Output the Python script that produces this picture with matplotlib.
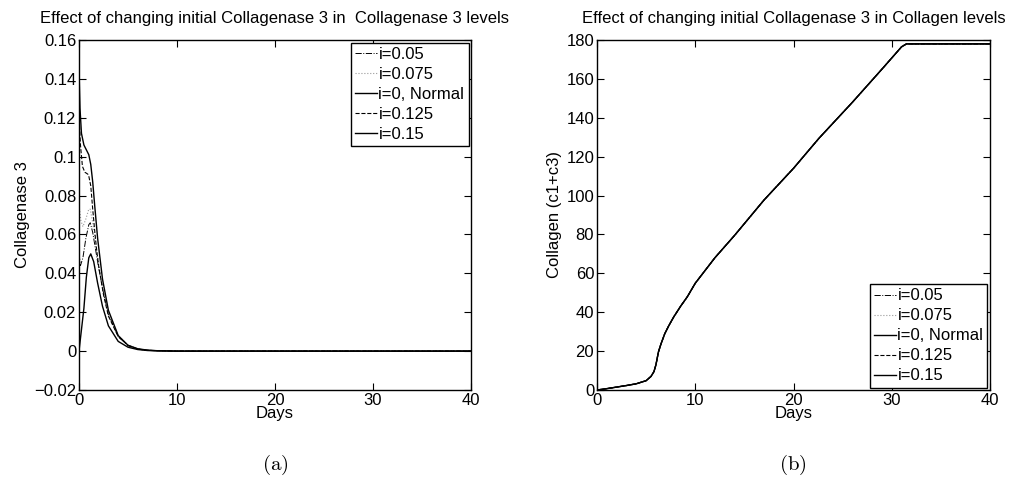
import numpy as np
import matplotlib.pyplot as plt

plt.rcParams['font.family'] = ['Liberation Sans', 'DejaVu Sans']
plt.rcParams['mathtext.fontset'] = 'cm'

# ---- panel (a): Collagenase 3 levels ----
t_015 = [0, 0.1, 0.25, 0.5, 0.8, 1.0, 1.2, 1.4, 1.6, 1.9, 2.4, 3.0, 4.0, 5.0, 6.0, 7.0, 8.0, 10, 40]
c_015 = [0.145, 0.125, 0.112, 0.106, 0.103, 0.101, 0.096, 0.087, 0.075, 0.058, 0.037, 0.021,
         0.008, 0.003, 0.0012, 0.0005, 0.0002, 0.0, 0.0]

t_0125 = [0, 0.15, 0.35, 0.6, 0.9, 1.0, 1.2, 1.4, 1.6, 1.8, 2.0, 2.5, 3.0, 4.0, 5.0, 6.0, 7.0, 10, 40]
c_0125 = [0.122, 0.106, 0.095, 0.092, 0.091, 0.09, 0.085, 0.073, 0.062, 0.052, 0.044, 0.029,
          0.018, 0.0075, 0.003, 0.0011, 0.0004, 0.0, 0.0]

t_0 = [0, 0.25, 0.5, 0.75, 1.0, 1.2, 1.5, 1.9, 2.4, 3.0, 4.0, 5.0, 6.0, 7.0, 8.0, 10, 40]
c_0 = [0.0, 0.011, 0.022, 0.038, 0.048, 0.050, 0.046, 0.035, 0.023, 0.013, 0.005, 0.002,
       0.0008, 0.0003, 0.0001, 0.0, 0.0]

t_0075 = [0, 0.2, 0.4, 0.7, 1.0, 1.15, 1.4, 1.7, 2.0, 2.5, 3.0, 4.0, 5.0, 6.0, 7.0, 10, 40]
c_0075 = [0.075, 0.067, 0.064, 0.068, 0.073, 0.073, 0.066, 0.055, 0.045, 0.031, 0.020, 0.008,
          0.003, 0.0011, 0.0004, 0.0, 0.0]

t_005 = [0, 0.15, 0.4, 0.7, 1.0, 1.15, 1.4, 1.7, 2.0, 2.5, 3.0, 4.0, 5.0, 6.0, 7.0, 10, 40]
c_005 = [0.05, 0.044, 0.048, 0.058, 0.065, 0.066, 0.061, 0.052, 0.043, 0.030, 0.019, 0.0075,
         0.0028, 0.001, 0.0004, 0.0, 0.0]

left_yticks = [-0.02, 0, 0.02, 0.04, 0.06, 0.08, 0.1, 0.12, 0.14, 0.16]
left_ylabels = ['\u22120.02', '0', '0.02', '0.04', '0.06', '0.08', '0.1', '0.12', '0.14', '0.16']

# ---- panel (b): Collagen levels (all five runs overlap) ----
t_col = [0, 1, 2, 3, 4, 5, 5.5, 5.8, 6.0, 6.25, 6.5, 6.9, 7.3, 7.8, 8.5, 9.2, 10, 12, 14, 17,
         20, 22.6, 26, 29, 31, 31.5, 32, 35, 40]
col = [0, 0.7, 1.5, 2.3, 3.2, 4.8, 7.0, 9.5, 13, 19.5, 23.5, 29, 33, 37.5, 43, 48, 54.9, 68,
       79.5, 97.7, 114, 129.5, 148, 165, 176.5, 178, 178, 178, 178]

labels = ['i=0.05', 'i=0.075', 'i=0, Normal', 'i=0.125', 'i=0.15']
styles = [dict(ls='-.', color='black', lw=0.7),
          dict(ls=':', color='#999999', lw=0.8),
          dict(ls='-', color='black', lw=1.0),
          dict(ls='--', color='black', lw=0.8),
          dict(ls='-', color='black', lw=1.0)]

fig = plt.figure(figsize=(10.2, 4.78), dpi=100)
ax1 = fig.add_axes([79 / 1020, 88 / 478, 392 / 1020, 350 / 478])
ax2 = fig.add_axes([597 / 1020, 88 / 478, 393 / 1020, 350 / 478])

left_series = [(t_005, c_005), (t_0075, c_0075), (t_0, c_0), (t_0125, c_0125), (t_015, c_015)]
for (t, c), lab, st in zip(left_series, labels, styles):
    ax1.plot(t, c, label=lab, **st)

for lab, st in zip(labels, styles):
    ax2.plot(t_col, col, label=lab, **st)

for ax in (ax1, ax2):
    ax.set_xlim(0, 40)
    ax.set_xticks([0, 10, 20, 30, 40])
    ax.tick_params(direction='in', top=True, right=True, length=5, width=0.8,
                   labelsize=12, pad=2)
    ax.set_xlabel('Days', fontsize=12, labelpad=-1)
    for sp in ax.spines.values():
        sp.set_linewidth(1.0)

ax1.set_ylim(-0.02, 0.16)
ax1.set_yticks(left_yticks)
ax1.set_yticklabels(left_ylabels)
ax1.set_ylabel('Collagenase 3', fontsize=12, labelpad=3)
ax1.set_title('Effect of changing initial Collagenase 3 in  Collagenase 3 levels', fontsize=12, pad=12)

ax2.set_ylim(0, 180)
ax2.set_yticks(np.arange(0, 181, 20))
ax2.set_ylabel('Collagen (c1+c3)', fontsize=12, labelpad=3)
ax2.set_title('Effect of changing initial Collagenase 3 in Collagen levels', fontsize=12, pad=12)

leg_kw = dict(fontsize=12, fancybox=False, framealpha=1, edgecolor='black',
              handlelength=1.3, handletextpad=0.1, borderpad=0.25, labelspacing=0.3,
              borderaxespad=0.15)
l1 = ax1.legend(loc='upper right', **leg_kw)
l2 = ax2.legend(loc='lower right', **leg_kw)
for l in (l1, l2):
    l.get_frame().set_linewidth(1.0)

fig.text(275 / 1020, 1 - 465 / 478, r'$\mathrm{(a)}$', fontsize=15, ha='center', va='center')
fig.text(793 / 1020, 1 - 465 / 478, r'$\mathrm{(b)}$', fontsize=15, ha='center', va='center')

fig.savefig('out.png', dpi=100)
